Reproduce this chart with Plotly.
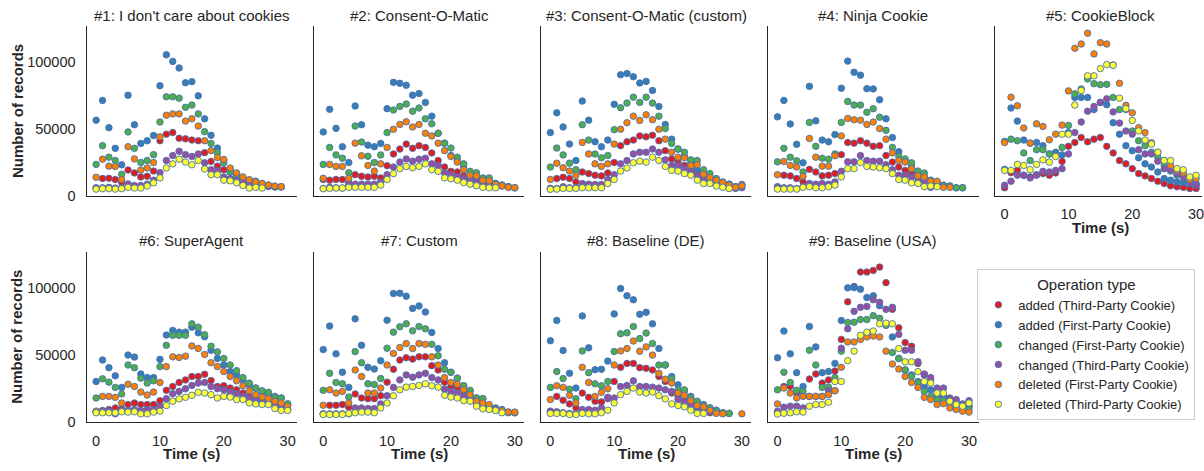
import plotly.graph_objects as go

W, H = 1204, 471

T = list(range(31))

SERIES = ["added (Third-Party Cookie)", "added (First-Party Cookie)",
          "changed (First-Party Cookie)", "changed (Third-Party Cookie)",
          "deleted (First-Party Cookie)", "deleted (Third-Party Cookie)"]
COLORS = ["#e41a1c", "#377eb8", "#4daf4a", "#984ea3", "#ff7f00", "#ffff33"]
TITLES = ["#1: I don't care about cookies", "#2: Consent-O-Matic", "#3: Consent-O-Matic (custom)",
          "#4: Ninja Cookie", "#5: CookieBlock", "#6: SuperAgent", "#7: Custom",
          "#8: Baseline (DE)", "#9: Baseline (USA)"]
N = None

# ---------------- Panel 1 ----------------
p1_added_3p = [6100,13000,13200,12300,10000,19400,17200,14200,14700,18600,41300,46200,47400,43200,42700,41800,41300,32400,25800,22300,19600,17900,15500,13000,11000,9800,8600,7600,6900,N,N]
p1_added_1p = [56700,71500,51100,35600,23300,75400,53300,39300,41300,45200,82500,105600,100700,95800,84700,85500,74900,57700,45400,35800,26500,19900,16700,13000,11800,11000,9300,8100,6900,6900,N]
p1_changed_1p = [23600,37600,29000,26500,16200,47900,35600,25000,26500,30900,55300,74200,74200,73200,66300,68000,61400,48100,39300,32400,24800,17900,14200,11800,9800,8800,8100,7400,6600,6600,N]
p1_changed_3p = [5600,6100,6400,5900,5900,9000,7800,7800,8800,11800,17400,26500,30200,33400,30900,29500,31400,24800,19600,18900,14200,13000,11800,10300,9300,8600,7800,7100,N,N,N]
p1_deleted_1p = [14000,27500,22300,22100,12300,36800,27700,19400,20900,25000,44200,60400,61400,61400,56000,57700,52300,41300,33900,28700,27300,20900,17200,14200,12100,10500,9300,8100,7400,6900,N]
p1_deleted_3p = [5100,5400,5400,5100,5400,6400,5900,5900,7400,9800,13500,20900,24000,27500,25300,23300,26500,20100,15900,15900,11800,11300,9800,7800,5900,6400,5900,N,N,N,N]

# ---------------- Panel 2 ----------------
p2_added_3p = [12300,11800,12300,12300,9800,15900,14700,14200,14700,13500,22600,31400,35100,38800,35600,37600,36300,32200,26500,21600,18400,17900,15000,14200,13000,10500,9300,8100,7400,N,N]
p2_added_1p = [47900,64800,50600,36800,25000,67300,53300,38000,36800,39300,65300,85000,84300,82800,75400,76600,70000,59700,46900,39500,30200,26500,21600,17900,14200,13000,11800,9300,8100,6900,6100]
p2_changed_1p = [23600,36300,30700,28200,17400,52300,40300,29700,25000,30700,47400,64300,67000,68800,63400,65800,57700,54000,46900,39500,35800,29000,24000,18400,17400,13500,13500,9300,8100,6900,6100]
p2_changed_3p = [5600,6400,6100,5900,8800,8800,8800,8800,8800,10500,15900,21600,25300,27700,26000,27500,28200,24000,22800,17200,15900,14200,13000,11800,11000,10000,8600,7600,N,N,N]
p2_deleted_1p = [13200,23600,22100,22100,13200,39500,30000,22800,18600,24000,36300,49900,53500,55500,51600,53500,46900,44900,39500,33900,29500,25300,19600,15500,15000,11800,11300,8600,7600,6400,6100]
p2_deleted_3p = [5400,5600,5900,5900,6400,6400,6400,6400,6400,8100,12300,16700,20400,22100,21100,22100,24000,19600,18400,13500,12800,11800,10000,8800,7600,6400,6100,6100,N,N,N]

# ---------------- Panel 3 ----------------
p3_added_3p = [5600,13000,14000,13000,10500,17900,16700,15500,15000,17200,25000,37600,40500,41800,44900,44200,45400,41300,33900,27700,25300,22800,19100,17900,14200,12300,9300,8100,5600,N,N]
p3_added_1p = [47400,62200,51600,38800,26500,71000,56700,40500,36800,41800,68600,90700,91600,89200,84500,85700,78900,67000,53500,42500,35100,29500,24800,19600,16700,14200,11800,10000,8800,6900,8600]
p3_changed_1p = [21600,35800,30700,24500,19600,53300,41800,31400,28500,30200,49600,66000,69500,73900,70000,73900,69500,59700,50400,39300,35100,32700,27000,26500,19600,16700,13000,10500,8800,6900,7600]
p3_changed_3p = [5600,5600,6900,6100,6100,9300,8800,8600,8600,12300,15900,24000,26500,31400,32700,32700,35100,32700,27000,22800,22800,20400,19100,15900,13000,11000,9300,7600,6400,5600,6100]
p3_deleted_1p = [12300,24500,21100,18600,15500,40000,31400,24000,22100,24000,38800,49900,54800,59700,56500,60700,57000,49900,42500,32700,29000,28500,22800,23300,16200,13700,11800,10000,8100,6400,7600]
p3_deleted_3p = [4900,5100,5600,5600,5600,6100,6100,6100,6100,9300,12300,18600,20900,24800,26000,25300,29000,26500,22100,19100,18600,16700,15500,11800,9300,9300,7400,6400,5600,N,N]

# ---------------- Panel 4 ----------------
p4_added_3p = [6900,15500,15000,13000,10500,19900,17900,15000,15500,16700,30900,40000,39500,41300,39500,37100,37600,30200,25300,21600,19100,16700,15000,13000,9800,7400,N,N,N,N,N]
p4_added_1p = [59200,71500,53800,38600,24800,82000,56200,41800,40500,45900,80600,100900,92600,90400,80300,80100,72000,57700,43700,33100,26000,21600,17900,14200,11800,10000,8100,7400,6100,6100,N]
p4_changed_1p = [25500,35600,29000,26300,17900,55000,37100,28200,27500,31400,55000,70700,68000,68000,62600,65300,58900,49100,36300,29500,27700,24800,18600,17200,11300,10500,7600,7400,6100,6100,N]
p4_changed_3p = [6400,6100,6100,5600,6900,9300,8800,9300,8800,10500,18400,25500,25500,30200,26500,26000,26000,23300,19600,15500,15500,14200,13000,11000,6400,8100,N,N,N,N,N]
p4_deleted_1p = [15900,25800,22800,21600,14700,43000,29000,22300,22300,30000,44900,58000,57000,56700,53500,55300,50400,42500,32200,26500,25300,20400,15000,14200,11000,11000,6400,6400,N,N,N]
p4_deleted_3p = [5100,5100,5100,5100,6400,6900,6100,6100,6900,8100,14200,20400,20400,25000,22100,21600,21100,20400,16700,12300,11800,9800,9300,6900,7400,6900,N,N,N,N,N]

# ---------------- Panel 5 ----------------
p5_added_3p = [6100,17400,19100,15500,14200,15900,16700,15500,17200,25800,37100,40000,43700,40500,42500,43700,37100,32200,26500,24000,20400,16700,15000,13000,11000,9300,7600,6900,6400,5600,5600]
p5_added_1p = [40800,65800,56000,41800,39500,40000,37600,31400,32700,30700,47400,73700,73700,73700,64600,70000,68300,54800,46200,37600,33900,28500,24000,21600,17900,13000,11800,10500,10000,9300,8100]
p5_changed_1p = [19900,42500,41300,32200,26500,34600,34600,31400,30200,36300,52800,76400,80100,87500,84000,83300,83500,73700,64600,64600,48600,41300,37600,32700,29000,22800,18600,15500,14200,10500,9300]
p5_changed_3p = [8000,11000,15500,15500,13500,15500,18400,17900,19100,20400,31400,47400,55300,63400,67000,70000,72700,62900,54500,48600,46200,34600,31400,31400,26000,20400,19600,16700,14200,10000,8100]
p5_deleted_1p = [40000,73900,67500,50800,39500,54000,52000,42000,46200,53000,78600,110500,113700,121800,106300,114700,113700,98000,84300,67800,62200,51100,47400,39800,32700,26500,22800,19100,17200,12300,13000]
p5_deleted_3p = [19100,19100,23600,22800,19600,23600,27000,25300,29500,46200,46200,68000,78900,89900,89900,95300,98300,97800,73200,65300,56500,48600,41800,38800,32700,26500,26500,20400,19600,14200,15500]

# ---------------- Panel 6 ----------------
p6_added_3p = [7800,8600,9300,10500,9800,13000,14200,13000,13000,13000,15900,23600,26500,29500,31400,33900,33900,35600,30900,26500,27000,25300,24000,21600,19100,16700,15500,14200,13000,11300,9800]
p6_added_1p = [30200,46200,40500,34400,25800,49900,48400,35800,33100,33100,46700,64800,68300,67000,67000,70700,66500,63600,53500,47400,42500,37600,35100,31400,27700,25300,22800,21100,19100,17900,13000]
p6_changed_1p = [17900,32200,29700,25800,20900,42500,40500,32700,29000,30700,41300,57200,64600,64600,64600,73200,70700,65100,56500,52300,47400,42500,38300,33100,29000,25300,23300,22100,18400,17900,13700]
p6_changed_3p = [7400,8100,8100,6100,8600,8600,9300,8600,9300,9300,11800,17400,21100,22800,24800,27300,29000,29500,26500,24800,24000,22300,21100,19100,17900,15500,15000,13500,12300,11000,9300]
p6_deleted_1p = [8100,19100,19100,18400,14200,28200,26500,22300,20100,22300,29500,41300,48600,48100,49100,56700,54800,50400,44200,41300,37600,33900,30700,27000,23300,20400,18600,17400,15500,14200,11800]
p6_deleted_3p = [6900,6900,6900,6900,7600,7400,7600,6100,6100,7400,8100,12300,15500,17200,18400,19900,22100,21600,20400,17900,19100,18600,16700,16700,14200,13500,13000,13000,10000,8600,8600]

# ---------------- Panel 7 ----------------
p7_added_3p = [6100,12500,12500,13000,11000,20900,17900,17400,17400,19600,29700,39300,46200,47900,46900,48600,48600,42000,38800,29700,26500,25800,22800,20400,14700,13000,11000,9300,8100,N,N]
p7_added_1p = [54000,71500,50800,37100,25800,76900,57200,40800,39500,45700,75900,95800,96000,93800,84700,86500,82000,66800,54800,44200,37100,32700,27000,23300,17900,17400,11000,10500,9300,7400,6900]
p7_changed_1p = [23600,36300,29500,28500,18600,52500,44200,28500,28000,32400,55000,67000,71000,73200,68000,71200,69500,57900,49400,39300,37100,32700,27000,23600,17900,17400,11000,9300,8100,6900,6900]
p7_changed_3p = [5900,6100,6100,6100,6100,10500,10500,10000,10000,13500,19600,25800,31400,35100,33400,35100,36300,33100,31400,24500,22800,21600,19100,17900,13500,12300,10500,8800,8100,N,N]
p7_deleted_1p = [12500,24000,21600,22800,14200,38800,33900,21600,21600,25300,42500,51100,55500,58500,54800,58500,57900,48600,42500,33100,29500,28200,24000,20400,15500,14200,13000,9300,8600,7400,7400]
p7_deleted_3p = [5600,5600,5600,5600,6400,6900,7400,7400,6900,10500,14200,19600,24000,26000,26500,27300,28500,27000,26000,19900,18600,17900,15900,15500,11800,9800,9300,8600,6900,N,N]

# ---------------- Panel 8 ----------------
p8_added_3p = [7800,19100,16200,13500,10500,21600,18400,15500,15000,17400,30200,40800,43700,43700,40500,40000,38800,33900,30200,21600,19100,16200,13000,10500,9300,6900,N,N,N,N,N]
p8_added_1p = [60600,75700,53300,36300,25300,79100,55300,39000,39300,45400,80600,99500,94100,91100,80300,81800,73200,54800,42500,33900,27700,23300,19100,15000,13000,10500,8800,6900,6400,N,N]
p8_changed_1p = [25800,37600,32400,24500,17400,53000,36800,28500,27000,30200,52500,65800,66500,71200,62200,66300,58500,42500,42500,32200,24000,24000,17900,15500,12300,10500,8100,6900,6400,N,N]
p8_changed_3p = [8100,7600,6900,6400,6100,9300,9300,8800,10500,18400,17900,26500,27300,30700,26500,26500,26000,25300,24000,22800,16700,15000,13000,11300,10000,8100,N,N,N,N,N]
p8_deleted_1p = [16700,27000,25800,19900,14200,40800,29500,19100,22100,24800,42500,53000,54800,60400,52800,56000,49900,36300,31900,29000,21600,19900,15900,12300,11300,8800,6400,6100,N,N,6100]
p8_deleted_3p = [6400,6400,6400,5600,5600,6400,6100,6100,6900,8800,14200,20400,22800,25300,22300,21600,22300,19600,17200,13500,12300,11300,8800,6400,6400,N,N,N,N,N,N]

# ---------------- Panel 9 ----------------
p9_added_3p = [6900,26500,26500,22000,20000,32000,35800,29000,31400,38000,61600,89600,101000,111800,111800,113000,115500,103900,84000,70200,59200,56500,43700,35100,31400,24000,19100,17900,14200,12300,11800]
p9_added_1p = [47900,67800,50800,36800,26500,71200,56000,36800,37600,43700,75700,100000,100200,99000,92800,94100,86700,73200,63400,47400,38800,35100,30200,26500,24000,20400,19100,16700,14200,13000,11800]
p9_changed_1p = [24000,37100,29500,23600,22800,53500,42500,25800,26000,33100,52800,74200,74400,76400,76400,79300,77300,72000,51800,47400,38800,33900,29500,22800,19100,16700,15900,14200,11800,11000,9300]
p9_changed_3p = [8000,11000,11800,11800,10500,19100,19100,19100,23300,23300,55000,69500,82500,85500,86200,91100,89200,84000,85500,65300,53500,53500,44900,35800,33100,25300,25300,17400,16700,13500,15900]
p9_deleted_1p = [13500,25300,21600,17900,19100,19100,19100,19100,20400,23300,40800,59700,59700,61600,63400,64100,63400,52800,43200,39500,33900,29500,25800,18400,16700,13000,13700,10500,9300,8100,7400]
p9_deleted_3p = [6000,6500,6900,7600,7400,11800,13000,13000,14700,30200,30200,45700,52800,64600,67000,67800,73200,73700,73200,54800,44900,44900,37600,30200,29000,21600,21600,15500,13000,11800,14200]

PANELS = [
    [p1_added_3p, p1_added_1p, p1_changed_1p, p1_changed_3p, p1_deleted_1p, p1_deleted_3p],
    [p2_added_3p, p2_added_1p, p2_changed_1p, p2_changed_3p, p2_deleted_1p, p2_deleted_3p],
    [p3_added_3p, p3_added_1p, p3_changed_1p, p3_changed_3p, p3_deleted_1p, p3_deleted_3p],
    [p4_added_3p, p4_added_1p, p4_changed_1p, p4_changed_3p, p4_deleted_1p, p4_deleted_3p],
    [p5_added_3p, p5_added_1p, p5_changed_1p, p5_changed_3p, p5_deleted_1p, p5_deleted_3p],
    [p6_added_3p, p6_added_1p, p6_changed_1p, p6_changed_3p, p6_deleted_1p, p6_deleted_3p],
    [p7_added_3p, p7_added_1p, p7_changed_1p, p7_changed_3p, p7_deleted_1p, p7_deleted_3p],
    [p8_added_3p, p8_added_1p, p8_changed_1p, p8_changed_3p, p8_deleted_1p, p8_deleted_3p],
    [p9_added_3p, p9_added_1p, p9_changed_1p, p9_changed_3p, p9_deleted_1p, p9_deleted_3p],
]

YTICKS = [0, 50000, 100000]
XTICKS = [0, 10, 20, 30]

FONT = "Liberation Sans, Arial, sans-serif"
TXT = "#262626"
EDGE = "#4a72ab"

# geometry in page pixels (body margin removed below)
XDOM = [(86.7, 297.7), (314.2, 525.2), (541.7, 752.7), (769.2, 980.2), (996.7, 1207.7)]
YDOM = [(26.7, 199.3), (256.0, 429.3)]
PX_PER_T = 211.0 / 33.0

fig = go.Figure()
layout = dict(
    width=W, height=H, margin=dict(l=0, r=0, t=0, b=0),
    paper_bgcolor="white", plot_bgcolor="white",
    font=dict(family=FONT, color=TXT, size=14),
    showlegend=True,
)
annotations = []

for k, series in enumerate(PANELS):
    row = 0 if k < 5 else 1
    col = k if k < 5 else k - 5
    x0, x1 = XDOM[col]
    y0, y1 = YDOM[row]
    ax = "" if k == 0 else str(k + 1)
    x1c = min(x1, W)
    xr_hi = -1.5 + (x1c - x0) / PX_PER_T
    show_x = (row == 1) or (col == 4)
    show_y = (col == 0)
    layout["xaxis" + ax] = dict(
        domain=[x0 / W, x1c / W], range=[-1.5, xr_hi], anchor="y" + ax,
        showgrid=False, zeroline=False, showline=True, linecolor=TXT, linewidth=1.2,
        tickvals=XTICKS, showticklabels=show_x, ticks="outside" if show_x else "",
        ticklen=5, tickcolor="rgba(0,0,0,0)", tickfont=dict(size=14.5, color=TXT, family=FONT),
        ticklabeloverflow="allow",
    )
    layout["yaxis" + ax] = dict(
        domain=[1 - y1 / H, 1 - y0 / H], range=[0, 127000], anchor="x" + ax,
        showgrid=False, zeroline=False, showline=True, linecolor=TXT, linewidth=1.2,
        tickvals=YTICKS, tickformat="d", showticklabels=show_y,
        ticks="outside" if show_y else "", ticklen=7, tickcolor="rgba(0,0,0,0)",
        tickfont=dict(size=14.5, color=TXT, family=FONT),
    )
    for s, vals in enumerate(series):
        fig.add_trace(go.Scatter(
            x=T, y=vals, mode="markers", name=SERIES[s], legendgroup=SERIES[s],
            showlegend=(k == 0), xaxis="x" + ax, yaxis="y" + ax,
            marker=dict(color=COLORS[s], size=6.5, line=dict(color=EDGE, width=0.9)),
            cliponaxis=False,
        ))
    cx = (x0 + x1) / 2
    annotations.append(dict(text=TITLES[k], x=cx / W, y=1 - (y0 - 11) / H, xref="paper", yref="paper",
                            xanchor="center", yanchor="middle", showarrow=False,
                            font=dict(size=15, color=TXT, family=FONT)))
    if show_x:
        annotations.append(dict(text="<b>Time (s)</b>", x=cx / W, y=1 - (y1 + 32) / H,
                                xref="paper", yref="paper", xanchor="center", yanchor="middle",
                                showarrow=False, font=dict(size=15, color=TXT, family=FONT)))
    if show_y:
        annotations.append(dict(text="<b>Number of records</b>", x=17 / W, y=1 - ((y0 + y1) / 2) / H,
                                xref="paper", yref="paper", xanchor="center", yanchor="middle",
                                textangle=-90, showarrow=False,
                                font=dict(size=15, color=TXT, family=FONT)))

layout["annotations"] = annotations
layout["legend"] = dict(
    x=979 / W, y=1 - 274 / H, xanchor="left", yanchor="top",
    bordercolor="#cccccc", borderwidth=1, bgcolor="white",
    font=dict(size=13, color=TXT, family=FONT),
    title=dict(text="Operation type", side="top center", font=dict(size=15, color=TXT, family=FONT)),
    tracegroupgap=0, itemsizing="trace",
)
fig.update_layout(**layout)
fig.write_html(
    "out.html",
    config={"displayModeBar": False},
    post_script="document.body.style.margin='0';document.body.style.overflow='hidden';",
)
